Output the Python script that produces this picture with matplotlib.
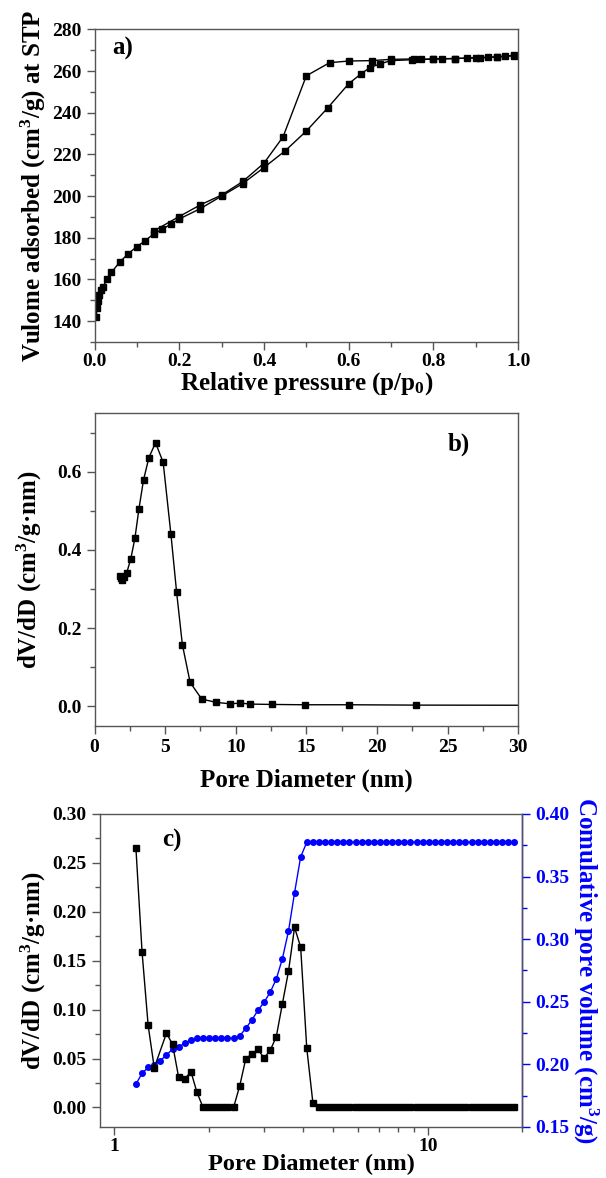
import numpy as np
import matplotlib
matplotlib.use('Agg')
import matplotlib.pyplot as plt
from matplotlib.ticker import MultipleLocator, FixedLocator, NullFormatter, FuncFormatter

# a) N2 isotherm, adsorption and desorption branches
p_ads = [0.004, 0.006, 0.008, 0.011, 0.015, 0.020, 0.030, 0.040, 0.060, 0.080,
         0.100, 0.120, 0.140, 0.160, 0.180, 0.200, 0.250, 0.300, 0.350, 0.400,
         0.450, 0.500, 0.550, 0.600, 0.630, 0.650, 0.675, 0.700, 0.750, 0.800,
         0.850, 0.900, 0.950, 0.990]
v_ads = [142.0, 146.5, 149.5, 152.5, 155.0, 156.5, 160.3, 163.4, 168.5, 172.4,
         175.8, 178.6, 182.0, 184.0, 186.6, 189.0, 194.0, 200.0, 206.0, 213.7,
         221.7, 231.2, 242.2, 253.9, 258.8, 261.6, 263.5, 265.0, 265.4, 265.7,
         266.0, 266.3, 266.8, 267.5]
p_des = [0.990, 0.970, 0.950, 0.930, 0.910, 0.880, 0.850, 0.820, 0.800, 0.770,
         0.755, 0.700, 0.655, 0.600, 0.555, 0.500, 0.445, 0.400, 0.350, 0.300,
         0.250, 0.200, 0.140]
v_des = [267.4, 267.0, 266.8, 266.5, 266.4, 266.2, 266.0, 265.9, 265.8, 265.6,
         265.8, 265.6, 265.0, 264.8, 264.0, 257.7, 228.4, 215.8, 207.0, 200.5,
         195.8, 190.2, 183.3]

# b) BJH pore size distribution
d_bjh = [1.79, 1.88, 1.98, 2.10, 2.27, 2.57, 2.86, 3.14, 3.47, 3.85, 4.32, 4.86,
         5.41, 5.81, 6.22, 6.77, 7.59, 8.63, 9.59, 10.33, 11.04, 12.55, 14.88,
         18.03, 22.79, 32.0]
dv_bjh = [0.334, 0.328, 0.324, 0.332, 0.340, 0.378, 0.430, 0.504, 0.579, 0.636,
          0.674, 0.624, 0.440, 0.293, 0.158, 0.0615, 0.0188, 0.0103, 0.0068,
          0.0085, 0.0060, 0.0051, 0.0043, 0.0043, 0.0034, 0.0030]

# c) DFT distribution
d_psd = [1.174, 1.228, 1.284, 1.343, 1.469, 1.536, 1.606, 1.680, 1.757,
         1.837, 1.921, 2.009, 2.101, 2.197, 2.298, 2.403, 2.513, 2.628, 2.748,
         2.874, 3.005, 3.143, 3.287, 3.437, 3.594, 3.758, 3.930, 4.110, 4.298,
         4.495, 4.700, 4.915, 5.140, 5.375, 5.621, 5.878, 6.147, 6.428, 6.722,
         7.030, 7.352, 7.688, 8.040, 8.408, 8.793, 9.195, 9.618, 10.06, 10.52,
         11.00, 11.50, 12.03, 12.58, 13.16, 13.76, 14.39, 15.05, 15.73, 16.46,
         17.21, 18.00, 18.82]
dv_psd = [0.265, 0.159, 0.084, 0.0405, 0.076, 0.0644, 0.0308, 0.0291, 0.0367,
          0.0154, 0.0, 0.0, 0.0, 0.0, 0.0, 0.0, 0.022, 0.0497, 0.0548,
          0.0593, 0.0504, 0.0583, 0.0723, 0.106, 0.139, 0.184, 0.164, 0.0606, 0.005,
          0.0, 0.0, 0.0, 0.0, 0.0, 0.0, 0.0, 0.0, 0.0, 0.0,
          0.0, 0.0, 0.0, 0.0, 0.0, 0.0, 0.0, 0.0, 0.0, 0.0,
          0.0, 0.0, 0.0, 0.0, 0.0, 0.0, 0.0, 0.0, 0.0, 0.0,
          0.0, 0.0, 0.0]

# c) cumulative pore volume
d_cum = [1.174, 1.228, 1.284, 1.343, 1.404, 1.469, 1.536, 1.606, 1.680, 1.757,
         1.837, 1.921, 2.009, 2.101, 2.197, 2.298, 2.403, 2.513, 2.628, 2.748,
         2.874, 3.005, 3.143, 3.287, 3.437, 3.594, 3.758, 3.930, 4.110, 4.298,
         4.495, 4.700, 4.915, 5.140, 5.375, 5.621, 5.878, 6.147, 6.428, 6.722,
         7.030, 7.352, 7.688, 8.040, 8.408, 8.793, 9.195, 9.618, 10.06, 10.52,
         11.00, 11.50, 12.03, 12.58, 13.16, 13.76, 14.39, 15.05, 15.73, 16.46,
         17.21, 18.00, 18.82]
v_cum = [0.1843, 0.1928, 0.1976, 0.1995, 0.2030, 0.2075, 0.2123, 0.2141, 0.2168, 0.2195,
         0.2208, 0.2208, 0.2208, 0.2208, 0.2208, 0.2208, 0.2208, 0.2227, 0.2288, 0.2355,
         0.2432, 0.2496, 0.2576, 0.2682, 0.2844, 0.3063, 0.3371, 0.3657, 0.3774, 0.3774,
         0.3774, 0.3774, 0.3774, 0.3774, 0.3774, 0.3774, 0.3774, 0.3774, 0.3774, 0.3774,
         0.3774, 0.3774, 0.3774, 0.3774, 0.3774, 0.3774, 0.3774, 0.3774, 0.3774, 0.3774,
         0.3774, 0.3774, 0.3774, 0.3774, 0.3774, 0.3774, 0.3774, 0.3774, 0.3774, 0.3774,
         0.3774, 0.3774, 0.3774]

plt.rcParams['font.family'] = ['Liberation Serif', 'DejaVu Serif']
plt.rcParams['font.weight'] = 'bold'
plt.rcParams['axes.labelweight'] = 'bold'
plt.rcParams['mathtext.fontset'] = 'custom'
plt.rcParams['mathtext.rm'] = 'Liberation Serif:bold'
plt.rcParams['mathtext.bf'] = 'Liberation Serif:bold'
plt.rcParams['mathtext.default'] = 'bf'

LABEL = 18
TICK = 14
SPINE = '#555555'
BLUE = '#0000ff'


def style_axes(ax):
    for s in ax.spines.values():
        s.set_color(SPINE)
        s.set_linewidth(1.0)
    ax.tick_params(which='both', direction='out', labelsize=TICK, width=1.0,
                   color=SPINE, top=False, right=False)
    ax.tick_params(which='major', length=6)
    ax.tick_params(which='minor', length=3.5)


fig = plt.figure(figsize=(6.06, 11.78), dpi=100)

# ---- a) isotherm
ax1 = fig.add_axes([0.156, 0.7097, 0.699, 0.2654])
ax1.plot(p_ads, v_ads, '-s', color='black', lw=1.0, ms=5)
ax1.plot(p_des, v_des, '-s', color='black', lw=1.0, ms=5)
ax1.set_xlim(0, 1.0)
ax1.set_ylim(130, 280)
ax1.xaxis.set_major_locator(MultipleLocator(0.2))
ax1.xaxis.set_minor_locator(MultipleLocator(0.1))
ax1.yaxis.set_major_locator(FixedLocator([140, 160, 180, 200, 220, 240, 260, 280]))
ax1.yaxis.set_minor_locator(MultipleLocator(10))
style_axes(ax1)
ax1.tick_params(axis='x', pad=2)
ax1.set_xlabel('Relative pressure (p/p$_0$)', fontsize=LABEL, labelpad=0)
ax1.set_ylabel('Vulome adsorbed (cm$^3$/g) at STP', fontsize=LABEL, labelpad=3)
ax1.text(0.041, 0.94, 'a)', transform=ax1.transAxes, fontsize=LABEL, va='center')

# ---- b) BJH
ax2 = fig.add_axes([0.156, 0.3837, 0.699, 0.2657])
ax2.plot(d_bjh, dv_bjh, '-s', color='black', lw=1.0, ms=4.5)
ax2.set_xlim(0, 30)
ax2.set_ylim(-0.05, 0.75)
ax2.xaxis.set_major_locator(MultipleLocator(5))
ax2.xaxis.set_minor_locator(MultipleLocator(2.5))
ax2.yaxis.set_major_locator(MultipleLocator(0.2))
ax2.yaxis.set_minor_locator(MultipleLocator(0.1))
ax2.yaxis.set_major_formatter(FuncFormatter(lambda v, pos: '%.1f' % v))
style_axes(ax2)
ax2.set_xlabel('Pore Diameter (nm)', fontsize=LABEL, labelpad=9)
ax2.set_ylabel('dV/dD (cm$^3$/g\u00b7nm)', fontsize=LABEL, labelpad=9)
ax2.text(0.834, 0.90, 'b)', transform=ax2.transAxes, fontsize=LABEL, va='center')

# ---- c) DFT + cumulative volume
ax3 = fig.add_axes([0.1645, 0.0433, 0.6977, 0.2657])
ax3.plot(d_psd, dv_psd, '-s', color='black', lw=1.0, ms=4, zorder=2)
ax3.set_xscale('log')
ax3.set_xlim(0.9, 20)
ax3.set_ylim(-0.02, 0.30)
ax3.xaxis.set_major_locator(FixedLocator([1, 10]))
ax3.xaxis.set_major_formatter(FuncFormatter(lambda v, pos: '%d' % v))
ax3.xaxis.set_minor_locator(FixedLocator([2, 3, 4, 5, 6, 7, 8, 9, 20]))
ax3.xaxis.set_minor_formatter(NullFormatter())
ax3.yaxis.set_major_locator(MultipleLocator(0.05))
ax3.yaxis.set_minor_locator(MultipleLocator(0.025))
ax3.yaxis.set_major_formatter(FuncFormatter(lambda v, pos: '%.2f' % v))
style_axes(ax3)
ax3.tick_params(axis='x', pad=2)
ax3.set_xlabel('Pore Diameter (nm)', fontsize=17.5, labelpad=-1)
ax3.set_ylabel('dV/dD (cm$^3$/g\u00b7nm)', fontsize=LABEL, labelpad=3)
ax3.text(0.147, 0.917, 'c)', transform=ax3.transAxes, fontsize=LABEL, va='center')

ax4 = ax3.twinx()
ax4.plot(d_cum, v_cum, '-o', color=BLUE, lw=1.0, ms=4, zorder=3)
ax4.set_ylim(0.15, 0.40)
ax4.yaxis.set_major_locator(MultipleLocator(0.05))
ax4.yaxis.set_minor_locator(MultipleLocator(0.025))
ax4.yaxis.set_major_formatter(FuncFormatter(lambda v, pos: '%.2f' % v))
for s in ['top', 'bottom', 'left']:
    ax4.spines[s].set_visible(False)
ax4.spines['right'].set_color(BLUE)
ax4.spines['right'].set_linewidth(1.0)
ax4.tick_params(axis='y', which='both', direction='out', labelsize=TICK,
                colors=BLUE, width=1.0)
ax4.tick_params(axis='y', which='major', length=6)
ax4.tick_params(axis='y', which='minor', length=3.5)
ax4.set_ylabel('Comulative pore volume (cm$^3$/g)', fontsize=LABEL, color=BLUE,
               rotation=270, labelpad=22)
ax3.set_zorder(ax4.get_zorder() + 1)
ax3.patch.set_visible(False)

fig.savefig('out.png', dpi=100)
